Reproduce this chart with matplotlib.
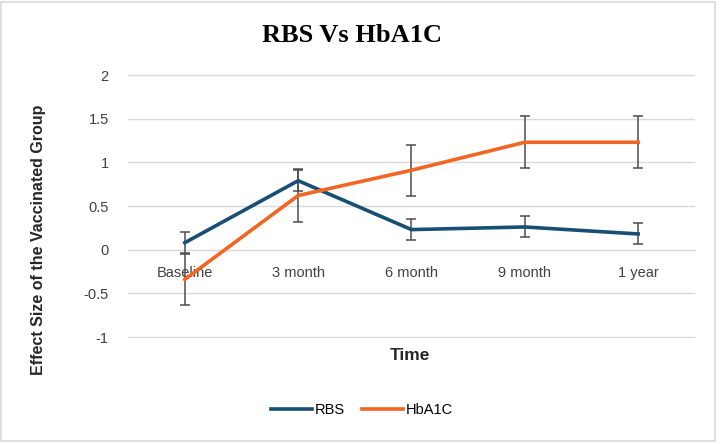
import matplotlib
matplotlib.use('Agg')
import matplotlib.pyplot as plt
from matplotlib.patches import Rectangle

plt.rcParams['font.family'] = ['Liberation Sans', 'DejaVu Sans']

categories = ['Baseline', '3 month', '6 month', '9 month', '1 year']
rbs = [0.08, 0.79, 0.23, 0.26, 0.18]
rbs_err = [0.12, 0.12, 0.12, 0.12, 0.12]
hba1c = [-0.34, 0.62, 0.91, 1.23, 1.23]
hba1c_err = [0.29, 0.30, 0.29, 0.30, 0.30]

fig = plt.figure(figsize=(7.2, 4.44), dpi=100)
ax = fig.add_axes([0.178, 0.239, 0.787, 0.594])

x = list(range(len(categories)))
ax.errorbar(x, rbs, yerr=rbs_err, color='#174E73', lw=2.6, ecolor='#4d4d4d',
            elinewidth=1.1, capsize=3.5, capthick=1.1, label='RBS', zorder=3)
ax.errorbar(x, hba1c, yerr=hba1c_err, color='#F26522', lw=2.6, ecolor='#4d4d4d',
            elinewidth=1.1, capsize=3.5, capthick=1.1, label='HbA1C', zorder=3)

ax.set_xlim(-0.5, 4.5)
ax.set_ylim(-1.01, 2.01)
ax.set_yticks([-1, -0.5, 0, 0.5, 1, 1.5, 2])
ax.set_yticklabels(['-1', '-0.5', '0', '0.5', '1', '1.5', '2'])
ax.set_xticks(x)
ax.set_xticklabels(categories)
ax.grid(axis='y', color='#d9d9d9', lw=1)
ax.set_axisbelow(True)
for s in ['top', 'right', 'left']:
    ax.spines[s].set_visible(False)
ax.spines['bottom'].set_position(('data', 0))
ax.spines['bottom'].set_color('#d9d9d9')
ax.tick_params(axis='both', length=0, labelsize=10.5, colors='#404040')
ax.tick_params(axis='x', pad=12)
ax.tick_params(axis='y', pad=14)

fig.text(0.489, 0.921, 'RBS Vs HbA1C', ha='center', va='center',
         family='Liberation Serif', fontweight='bold', fontsize=19)
fig.text(0.570, 0.200, 'Time', ha='center', va='center', fontweight='bold',
         fontsize=12.5, color='#262626')
fig.text(0.053, 0.46, 'Effect Size of the Vaccinated Group', rotation=90,
         ha='center', va='center', fontweight='bold', fontsize=11.5,
         color='#262626')

h, l = ax.get_legend_handles_labels()
h = [hh[0] for hh in h]
fig.legend(h, l, loc='center', bbox_to_anchor=(0.503, 0.077), ncol=2,
           frameon=False, fontsize=10.5, handlelength=2.8, handletextpad=0.2,
           columnspacing=1.2)

fig.patches.append(Rectangle((0.002, 0.006), 0.991, 0.99, transform=fig.transFigure,
                             fill=False, edgecolor='#d9d9d9', lw=1.2))

fig.savefig('out.png', dpi=100)
